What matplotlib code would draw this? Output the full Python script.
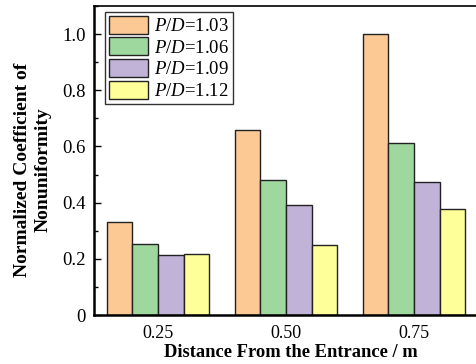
import numpy as np
import matplotlib.pyplot as plt
from matplotlib.ticker import MultipleLocator, FuncFormatter

plt.rcParams['font.family'] = ['Liberation Serif', 'DejaVu Serif']
plt.rcParams['mathtext.fontset'] = 'custom'
plt.rcParams['mathtext.it'] = 'Liberation Serif:italic'
plt.rcParams['mathtext.rm'] = 'Liberation Serif'

# data
distances = [0.25, 0.50, 0.75]
tick_labels = ["0.25", "0.50", "0.75"]
pd_labels = ["1.03", "1.06", "1.09", "1.12"]
pd_103 = [0.332, 0.657, 1.000]
pd_106 = [0.254, 0.479, 0.614]
pd_109 = [0.214, 0.393, 0.475]
pd_112 = [0.216, 0.250, 0.379]
series = [pd_103, pd_106, pd_109, pd_112]
colors = ['#FCC995', '#9FD89F', '#C1B2D8', '#FFFF99']

fig = plt.figure(figsize=(4.76, 3.64), dpi=100)
ax = fig.add_axes([94 / 476, 1 - 315 / 364, (478 - 94) / 476, (315 - 6) / 364])

width = 0.05
x = np.array(distances)
for i, vals in enumerate(series):
    offs = (i - 1.5) * width
    ax.bar(x + offs, vals, width, color=colors[i], edgecolor='#222222',
           linewidth=1.0, label='$P/D$=' + pd_labels[i], zorder=2)

ax.set_xlim(0.125, 0.875)
ax.set_ylim(0, 1.1)
ax.set_xticks(distances)
ax.set_xticklabels(tick_labels)
ax.yaxis.set_major_locator(MultipleLocator(0.2))
ax.yaxis.set_minor_locator(MultipleLocator(0.1))
ax.yaxis.set_major_formatter(FuncFormatter(lambda v, p: "0" if abs(v) < 1e-9 else f"{v:.1f}"))
ax.tick_params(axis='y', which='major', direction='in', length=5, width=1, labelsize=13.5, pad=6)
ax.tick_params(axis='y', which='minor', direction='in', length=3, width=1)
ax.tick_params(axis='x', length=0, labelsize=13, pad=7)

for s in ['left', 'bottom']:
    ax.spines[s].set_linewidth(1.8)
ax.spines['top'].set_linewidth(1.2)
ax.spines['right'].set_linewidth(1.2)

ax.set_xlabel('Distance From the Entrance / m', fontsize=13.3, fontweight='bold')
ax.xaxis.set_label_coords(0.513, -0.095, transform=ax.transAxes)
ax.set_ylabel('Normalized Coefficient of\nNonuniformity', fontsize=14, fontweight='bold',
              linespacing=1.3)
ax.yaxis.set_label_coords(-0.11, 0.47, transform=ax.transAxes)

leg = ax.legend(loc='upper left', bbox_to_anchor=(0.0286, 0.9806), fontsize=13.5,
                frameon=True, fancybox=False, edgecolor='black',
                handlelength=2.1, handleheight=1.1, borderpad=0.2,
                labelspacing=0.12, handletextpad=0.3, borderaxespad=0)
leg.get_frame().set_linewidth(1.0)

fig.savefig('out.png', dpi=100)
